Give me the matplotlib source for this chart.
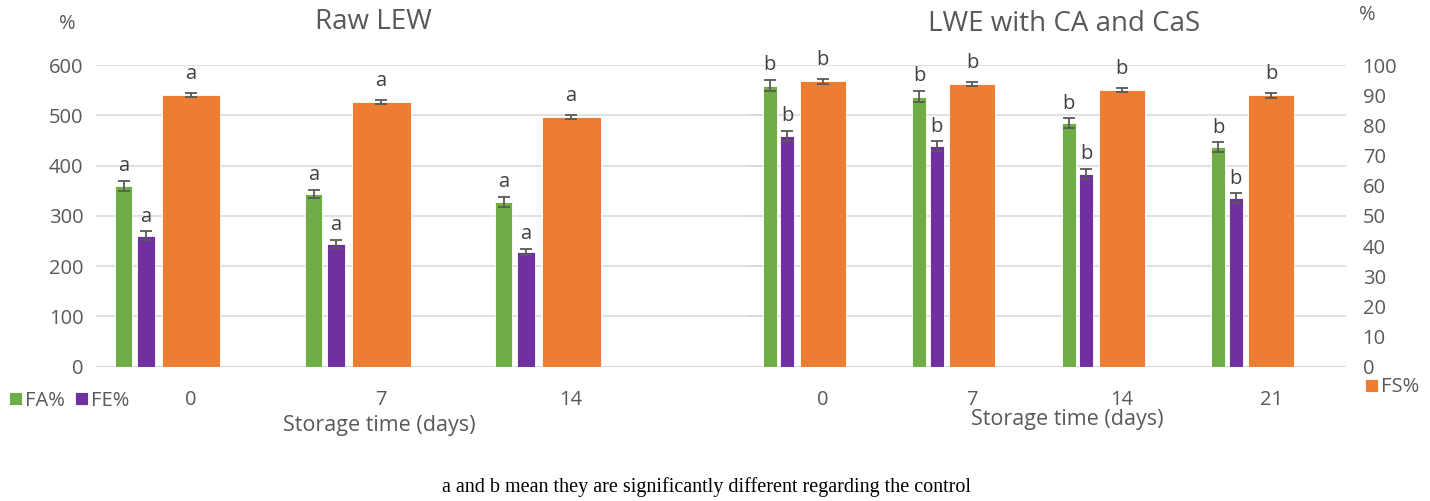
import numpy as np
import matplotlib
matplotlib.use('Agg')
import matplotlib.pyplot as plt

plt.rcParams['font.family'] = ['Open Sans', 'DejaVu Sans']

# storage days for each trial
raw_days = ['0', '7', '14']
lwe_days = ['0', '7', '14', '21']

# raw LEW (FA%, FE% on the 0-600 scale, FS% on the 0-100 scale)
raw_fa = [360, 344, 328]
raw_fa_err = [10, 8, 10]
raw_fe = [260, 244, 228]
raw_fe_err = [9, 8, 6]
raw_fs = [90.0, 87.7, 82.8]
raw_fs_err = [0.7, 0.7, 0.6]
raw_sig = 'a'

# LWE with CA and CaS
lwe_fa = [559, 537, 484, 436]
lwe_fa_err = [11, 11, 10, 10]
lwe_fe = [459, 438, 383, 335]
lwe_fe_err = [10, 10, 10, 10]
lwe_fs = [94.6, 93.7, 91.7, 89.9]
lwe_fs_err = [0.8, 0.8, 0.8, 0.7]
lwe_sig = 'b'

green = '#70AD47'
purple = '#7030A0'
orange = '#ED7D31'
txt = '#595959'
grid = '#D9D9D9'

W, H = 1430, 501
fig = plt.figure(figsize=(W/100, H/100), dpi=100)

ekw = dict(ecolor=txt, capsize=4, elinewidth=1.3, capthick=1.3)


def draw(ax, ax2, days, fa, fa_err, fe, fe_err, fs, fs_err, sig):
    x = np.arange(len(days))
    b1 = ax.bar(x - 0.355, fa, 0.092, yerr=fa_err, color=green, edgecolor='white',
                linewidth=0.6, error_kw=ekw, zorder=2, label='FA%')
    b2 = ax.bar(x - 0.237, fe, 0.092, yerr=fe_err, color=purple, edgecolor='white',
                linewidth=0.6, error_kw=ekw, zorder=2, label='FE%')
    b3 = ax2.bar(x, fs, 0.31, yerr=fs_err, color=orange, edgecolor='white',
                 linewidth=0.6, error_kw=ekw, zorder=2, label='FS%')
    for xi, v, e in zip(x - 0.355, fa, fa_err):
        ax.annotate(sig, (xi, v + e), xytext=(0, 7), textcoords='offset points',
                    ha='center', va='baseline', fontsize=14.5, color='#404040')
    for xi, v, e in zip(x - 0.237, fe, fe_err):
        ax.annotate(sig, (xi, v + e), xytext=(0, 7), textcoords='offset points',
                    ha='center', va='baseline', fontsize=14.5, color='#404040')
    for xi, v, e in zip(x, fs, fs_err):
        ax2.annotate(sig, (xi, v + e), xytext=(0, 10), textcoords='offset points',
                     ha='center', va='baseline', fontsize=14.5, color='#404040')

    ax.set_ylim(0, 600)
    ax.set_yticks(np.arange(0, 601, 100))
    ax2.set_ylim(0, 100)
    ax.set_xticks(x)
    ax.set_xticklabels(days)
    ax.grid(axis='y', color=grid, linewidth=1.1)
    ax.set_axisbelow(True)
    for a in (ax, ax2):
        a.set_facecolor('none')
        for s in a.spines.values():
            s.set_visible(False)
    ax.axhline(0, color=grid, linewidth=1.6, zorder=1)
    ax.tick_params(axis='x', length=0, pad=17, labelsize=14.5, labelcolor=txt)
    return b1, b2, b3


# left panel
axL = fig.add_axes([96/W, 1 - 366.7/H, (765 - 96)/W, (366.7 - 65)/H])
axL2 = axL.twinx()
hL = draw(axL, axL2, raw_days, raw_fa, raw_fa_err, raw_fe, raw_fe_err,
          raw_fs, raw_fs_err, raw_sig)
axL.set_xlim(-0.5, 3.02)
axL.tick_params(axis='y', length=0, pad=9, labelsize=14.5, labelcolor=txt)
axL2.set_yticks([])

# right panel
axR = fig.add_axes([748/W, 1 - 366.7/H, (1346 - 748)/W, (366.7 - 65)/H])
axR2 = axR.twinx()
hR = draw(axR, axR2, lwe_days, lwe_fa, lwe_fa_err, lwe_fe, lwe_fe_err,
          lwe_fs, lwe_fs_err, lwe_sig)
axR.set_xlim(-0.5, 3.5)
axR.tick_params(axis='y', length=0, labelleft=False)
axR2.set_yticks(np.arange(0, 101, 10))
axR2.tick_params(axis='y', length=0, pad=12, labelsize=14.5, labelcolor=txt)

# titles, units and axis labels
fig.text(373/W, 1 - 29/H, 'Raw LEW', ha='center', va='baseline', fontsize=20, color=txt)
fig.text(1064/W, 1 - 31/H, 'LWE with CA and CaS', ha='center', va='baseline',
         fontsize=20, color=txt)
fig.text(67/W, 1 - 24/H, '%', ha='center', va='center', fontsize=14.5, color=txt)
fig.text(1367/W, 1 - 15/H, '%', ha='center', va='center', fontsize=14.5, color=txt)
fig.text(379/W, 1 - 426/H, 'Storage time (days)', ha='center', va='center',
         fontsize=15.5, color=txt)
fig.text(1067/W, 1 - 420/H, 'Storage time (days)', ha='center', va='center',
         fontsize=15.5, color=txt)

leg_kw = dict(frameon=False, handlelength=0.65, handleheight=0.65, handletextpad=0.15,
              columnspacing=0.5, borderpad=0, borderaxespad=0, fontsize=14.5,
              labelcolor=txt, loc='center left')
fig.legend(hL[:2], ['FA%', 'FE%'], ncol=2, bbox_to_anchor=(9/W, 1 - 400.5/H), **leg_kw)
fig.legend([hR[2]], ['FS%'], bbox_to_anchor=(1365/W, 1 - 387.5/H), **leg_kw)

fig.text(706/W, 1 - 487/H, 'a and b mean they are significantly different regarding the control',
         ha='center', va='center', fontsize=14.5, color='black',
         family=['Liberation Serif', 'DejaVu Serif'])

fig.savefig('out.png', dpi=100)
